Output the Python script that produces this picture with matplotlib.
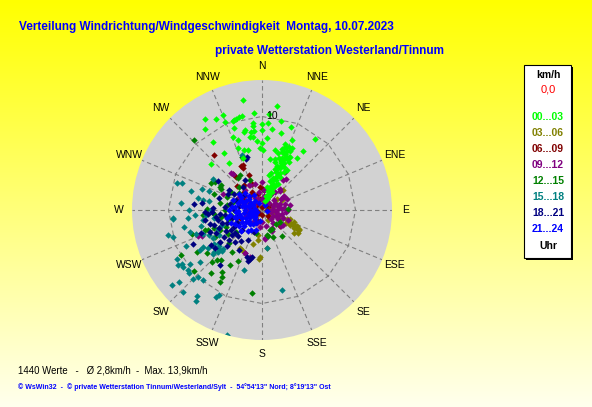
import numpy as np
import matplotlib
matplotlib.use('Agg')
import matplotlib.pyplot as plt
from matplotlib.patches import Rectangle

plt.rcParams['lines.scale_dashes'] = False
FONT = 'Liberation Sans'

W, H = 592, 407
RMAX = 13.9          # outer circle = maximum speed (km/h)
RING = 10            # labelled ring

sectors = ['N', 'NNE', 'NE', 'ENE', 'E', 'ESE', 'SE', 'SSE',
           'S', 'SSW', 'SW', 'WSW', 'W', 'WNW', 'NW', 'NNW']
hour_labels = ['00...03', '03...06', '06...09', '09...12',
               '12...15', '15...18', '18...21', '21...24']
hour_colors = ['#00FF00', '#808000', '#800000', '#800080',
               '#008000', '#008080', '#000080', '#0000FF']

# (direction in degrees, speed in km/h)
obs_00_03 = [(350, 11.9), (8, 11.2), (338, 11.0), (328, 11.5), (333, 10.9), (343, 10.1), (346, 10.3),
             (348, 10.3), (355, 10.4), (4, 10.3), (337, 10.2), (0, 9.2), (4, 9.3), (12, 9.7), (325, 10.6),
             (341, 9.3), (348, 8.7), (352, 8.4), (354, 8.5), (354, 9.0), (0, 8.6), (7, 8.7), (19, 9.4),
             (353, 7.9), (324, 9.0), (338, 8.4), (341, 7.9), (351, 7.9), (4, 7.7), (14, 8.5), (23, 8.1),
             (37, 9.5), (0, 7.2), (339, 7.1), (343, 6.7), (347, 6.6), (358, 6.6), (1, 6.4), (12, 6.6),
             (19, 6.6), (326, 7.3), (325, 6.2), (312, 7.3), (340, 5.9), (9, 5.5), (14, 5.6), (34, 6.7),
             (35, 7.7), (28, 6.4), (22, 6.5), (342, 10.0), (344, 10.1), (347, 8.6), (354, 9.4), (23, 5.8),
             (26, 6.1), (356, 7.4),
             (20, 1.0), (25, 1.3), (15, 1.5), (28, 1.7), (22, 1.9), (18, 2.1), (30, 2.2), (24, 2.4),
             (13, 2.5), (20, 2.7), (27, 2.9), (22, 3.0), (16, 3.2), (31, 3.3), (25, 3.5), (19, 3.6),
             (23, 3.8), (28, 4.0), (14, 4.1), (21, 4.3), (26, 4.4), (17, 4.6), (30, 4.7), (23, 4.9),
             (19, 5.0), (27, 5.2), (15, 5.3), (22, 5.4), (25, 5.6), (18, 5.8), (29, 5.9), (21, 6.0),
             (24, 6.2), (16, 6.3), (27, 6.4), (20, 6.6), (23, 6.8), (18, 6.9), (25, 7.0), (21, 7.2),
             (26, 7.4), (19, 7.5), (32, 5.0), (12, 3.8), (29, 3.1), (22, 1.5), (24, 2.0), (19, 2.4),
             (26, 2.6), (21, 3.4), (24, 4.1), (20, 4.5), (24, 5.1), (21, 5.6), (23, 6.0), (22, 6.5),
             (20, 7.0), (23, 7.3)]
obs_03_06 = [(111, 1.5), (110, 2.05), (111, 2.45), (115, 3.3), (116, 3.7), (118, 4.5), (109, 2.8),
             (110, 3.6), (117, 4.5), (119, 4.3), (113, 3.0), (106, 1.8), (120, 3.9), (114, 4.1),
             (109, 2.3), (118, 3.4), (190, 2.7), (184, 5.2), (187, 3.2), (182, 5.0), (207, 4.8),
             (173, 4.1), (210, 4.7), (195, 3.8), (200, 2.5), (47, 3.1), (63, 2.4), (55, 2.0), (70, 1.5),
             (150, 1.2), (90, 1.0), (130, 0.8), (240, 1.5), (60, 0.7), (105, 1.3), (112, 2.2),
             (118, 2.9), (108, 3.2), (115, 3.8), (122, 4.6), (125, 4.2)]
obs_06_09 = [(319, 7.8), (334, 5.2), (321, 4.5), (339, 4.0), (314, 3.7), (5, 2.2), (337, 5.2), (4, 2.2),
             (132, 2.6), (320, 2.0), (300, 1.5), (350, 1.2), (280, 1.8), (60, 1.0), (200, 1.2),
             (250, 2.5), (30, 1.8), (340, 3.0), (100, 0.8), (230, 0.7), (335, 4.9), (321, 5.0),
             (300, 2.3), (315, 2.7), (330, 2.2), (345, 1.8), (10, 1.4), (20, 0.9), (280, 1.2),
             (260, 1.7), (240, 1.1), (290, 2.6), (325, 3.3), (355, 2.5), (0, 0.3), (90, 0.5),
             (180, 0.5), (270, 0.6), (45, 0.8), (135, 0.9), (225, 0.4), (315, 0.7)]
obs_09_12 = [(36, 3.9), (57, 2.8), (359, 3.0), (334, 2.95), (345, 2.9), (88, 2.1), (216, 1.55),
             (187, 1.8), (200, 1.5), (174, 3.15), (156, 2.5), (31, 4.8), (58, 2.7), (248, 7.4),
             (320, 5.1), (332, 3.0), (174, 3.0), (201, 4.95), (321, 5.0), (292, 4.5), (247, 7.0),
             (201, 4.97), (194, 5.16), (10, 1.5), (30, 2.0), (50, 1.7), (70, 1.2), (20, 2.5), (80, 1.8),
             (100, 1.5), (120, 1.3), (45, 1.0), (350, 2.0), (15, 0.8), (60, 2.3), (90, 2.8), (75, 2.6),
             (330, 1.5), (0, 1.2), (40, 3.0), (110, 2.4), (140, 1.8), (300, 1.0), (270, 1.5), (290, 2.0),
             (310, 2.4), (250, 1.8), (320, 2.8), (280, 2.5), (260, 1.0), (300, 2.8), (38, 4.2), (44, 2.75),
             (60, 1.6), (85, 1.2), (100, 2.2), (70, 2.0), (25, 1.3), (5, 2.2), (340, 1.2), (120, 2.0),
             (130, 2.6), (150, 2.2), (165, 1.8), (180, 1.3), (35, 2.4), (95, 0.9), (75, 1.8), (85, 2.4),
             (95, 2.6), (105, 1.9), (115, 1.6), (125, 2.8), (135, 1.4), (80, 3.0), (65, 2.9), (110, 3.0),
             (100, 1.0), (90, 1.6)]
obs_12_15 = [(241, 9.9), (237, 8.3), (224, 7.7), (219, 6.9), (210, 6.8), (213, 7.9), (219, 8.6),
             (211, 8.3), (210, 8.9), (187, 8.9), (228, 9.8), (316, 10.4), (88, 2.8), (157, 3.1),
             (301, 5.9), (299, 5.1), (265, 6.3), (251, 6.5), (323, 4.35), (339, 6.1), (298, 6.2),
             (301, 5.1), (297, 4.9), (289, 5.4), (271, 5.9), (328, 4.4), (338, 3.5), (307, 3.05),
             (278, 3.8), (261, 3.4), (256, 3.5), (250, 6.1), (251, 7.9), (123, 2.3), (153, 2.3),
             (143, 3.5), (169, 2.7), (195, 2.5), (136, 2.1), (158, 2.3), (168, 2.85), (222, 7.2),
             (232, 7.5), (205, 6.0), (245, 5.0), (215, 5.5), (260, 4.5), (245, 4.2), (270, 4.0),
             (280, 4.6), (290, 4.0), (235, 4.5), (250, 5.5), (225, 5.0), (300, 3.8), (315, 3.5),
             (255, 3.8), (240, 5.8), (265, 5.2), (285, 3.2), (230, 3.6)]
obs_15_18 = [(288, 9.5), (289, 9.0), (285, 7.9), (289, 6.8), (280, 6.4), (281, 7.0), (266, 7.2),
             (265, 9.5), (264, 8.0), (255, 10.4), (253, 9.9), (302, 6.2), (260, 6.4), (247, 5.1),
             (253, 8.0), (240, 10.5), (234, 10.4), (231, 10.2), (229, 10.3), (229, 11.8), (230, 12.5),
             (224, 12.2), (217, 11.5), (216, 12.0), (208, 10.5), (207, 10.2), (220, 9.8), (224, 9.9),
             (230, 8.7), (197, 6.7), (195.5, 13.9), (166, 8.8), (264, 9.6), (340, 6.3), (225, 5.9),
             (228, 6.2), (232, 6.5), (230, 6.0), (235, 6.3), (226, 6.5), (233, 5.8), (229, 6.8),
             (224, 6.1), (237, 10.7), (236, 10.3), (225, 10.4), (233, 9.6), (237, 7.9), (250, 7.5),
             (258, 8.5), (245, 9.0), (270, 7.8), (275, 8.7), (240, 6.0), (248, 6.8), (173, 4.1),
             (250, 4.6), (260, 5.2), (240, 5.3), (270, 5.5), (245, 6.3), (255, 6.8), (265, 6.0),
             (280, 5.8), (235, 7.0), (238, 7.5), (228, 7.0), (290, 6.0)]
obs_18_21 = [(344, 5.9), (303, 5.6), (302, 4.1), (275, 7.3), (268, 6.1), (268, 5.4), (260, 6.2),
             (244, 8.2), (235, 6.6), (231, 6.5), (217, 7.4), (198, 5.3), (194, 5.4), (229, 3.8),
             (222, 3.8), (253, 5.4), (195, 5.7), (192, 5.1), (224, 5.4), (343, 5.7), (330, 3.7),
             (250, 4.0), (240, 4.5), (260, 3.5), (235, 5.0), (255, 5.8), (245, 3.0), (265, 4.5),
             (230, 4.2), (270, 3.0), (258, 2.5), (280, 2.5), (225, 3.0), (248, 5.0), (262, 5.0),
             (238, 3.5), (290, 3.0), (310, 2.5), (320, 3.2), (215, 4.0), (205, 3.5), (200, 2.5),
             (275, 4.0), (285, 4.8), (252, 4.5), (243, 5.5), (257, 4.8), (266, 5.8), (237, 4.0),
             (228, 4.8), (272, 5.2), (281, 3.5), (247, 6.0), (233, 5.6), (262, 4.0), (255, 3.3),
             (240, 3.0), (295, 4.0), (300, 3.5), (220, 4.5), (210, 5.0), (277, 6.5), (249, 7.0)]
obs_21_24 = [(250, 1.5), (260, 2.0), (240, 2.5), (270, 1.8), (280, 2.2), (230, 1.8), (255, 3.0),
             (265, 2.8), (245, 1.2), (290, 1.5), (300, 2.0), (275, 3.2), (235, 3.0), (220, 2.0),
             (285, 2.7), (310, 1.8), (250, 0.8), (205, 1.5), (215, 2.7), (295, 2.5), (262, 3.5),
             (248, 2.3), (272, 1.0), (320, 1.2), (225, 1.0), (190, 1.2), (340, 0.8), (30, 0.6),
             (100, 0.5), (258, 1.4), (330, 1.8), (315, 2.5), (305, 3.0), (235, 0.9), (255, 2.4),
             (268, 2.6), (242, 3.3), (228, 2.6), (282, 1.4), (296, 1.1), (252, 2.9), (238, 1.5),
             (263, 1.2), (277, 2.9), (247, 3.6), (212, 1.8), (198, 2.2), (225, 3.2), (288, 3.3),
             (302, 2.6), (318, 2.0), (257, 3.8), (270, 3.5), (233, 2.2), (243, 1.9), (261, 2.5),
             (283, 1.9), (292, 2.2), (208, 2.4), (218, 1.2), (253, 0.6), (275, 0.7), (300, 1.4)]
groups = [obs_00_03, obs_03_06, obs_06_09, obs_09_12, obs_12_15, obs_15_18, obs_18_21, obs_21_24]
draw_order = [1, 2, 3, 4, 5, 6, 7, 0]   # night streak (00...03) lies on top in the picture

n_values = 1440
mean_speed = '2,8'
max_speed = '13,9'


def fx(x):
    return x / W


def fy(y):
    return 1 - y / H


fig = plt.figure(figsize=(W / 100, H / 100), dpi=100)

# yellow gradient background
bg = fig.add_axes([0, 0, 1, 1], zorder=-10)
t = np.linspace(0, 1, 256)
img = np.zeros((256, 1, 3))
img[:, 0, 0] = 1.0
img[:, 0, 1] = 1.0
img[:, 0, 2] = t * 0.93
bg.imshow(img, aspect='auto', extent=[0, 1, 0, 1], origin='upper')
bg.axis('off')

# polar plot: centre (262,210) px, radius 130 px
cx, cy, rad = 262, 210, 130
ax = fig.add_axes([fx(cx - rad), fy(cy + rad), 2 * rad / W, 2 * rad / H], projection='polar')
ax.set_theta_zero_location('N')
ax.set_theta_direction(-1)
ax.set_ylim(0, RMAX)
ax.grid(False)
ax.set_xticks([])
ax.set_yticks([])
ax.spines['polar'].set_visible(False)
ax.set_facecolor('#D2D2D2')

dash = (0, (3.2, 2.2))
angles = np.deg2rad(np.arange(16) * 22.5)
for a in angles:
    ax.plot([a, a], [0, RMAX], color='#808080', lw=0.8, ls=dash, zorder=1)
ring_t = np.deg2rad(np.arange(17) * 22.5)
ax.plot(ring_t, [RING] * 17, color='#808080', lw=0.8, ls=dash, zorder=1)
ax.annotate(str(RING), xy=(0, RING), xytext=(3, 0), textcoords='offset points',
            ha='left', va='center', fontsize=7.5, family=FONT, color='black', zorder=5)

for k, gi in enumerate(draw_order):
    pts = groups[gi]
    d = np.deg2rad([p[0] for p in pts])
    s = [p[1] for p in pts]
    ax.plot(d, s, ls='none', marker='D', ms=3.3, mew=0, color=hour_colors[gi], zorder=3 + k * 0.01)

for a, lab in zip(angles, sectors):
    ax.text(a, 15.35, lab, ha='center', va='center', fontsize=7.5, family=FONT,
            color='black', clip_on=False)

# titles
fig.text(fx(19), fy(30), 'Verteilung Windrichtung/Windgeschwindigkeit  Montag, 10.07.2023',
         ha='left', va='baseline', fontsize=8.45, fontweight='bold', family=FONT, color='#0000FF')
fig.text(fx(215), fy(54), 'private Wetterstation Westerland/Tinnum',
         ha='left', va='baseline', fontsize=8.45, fontweight='bold', family=FONT, color='#0000FF')

# legend box
fig.add_artist(Rectangle((fx(526), fy(260)), 47 / W, 193 / H, transform=fig.transFigure,
                         facecolor='black', edgecolor='none', zorder=2))
fig.add_artist(Rectangle((fx(524), fy(258)), 47 / W, 193 / H, transform=fig.transFigure,
                         facecolor='white', edgecolor='black', lw=0.8, zorder=3))
lx = fx(548)
fig.text(lx, fy(75.5), 'km/h', ha='center', va='center', fontsize=7.5, fontweight='bold',
         family=FONT, color='black', zorder=4)
fig.text(lx, fy(90), '0,0', ha='center', va='center', fontsize=8,
         family=FONT, color='#FF0000', zorder=4)
for i, (lab, col) in enumerate(zip(hour_labels, hour_colors)):
    fig.text(lx, fy(117.5 + 16 * i), lab, ha='center', va='center', fontsize=7.5,
             fontweight='bold', family=FONT, color=col, zorder=4)
fig.text(lx, fy(246), 'Uhr', ha='center', va='center', fontsize=7.5, fontweight='bold',
         family=FONT, color='black', zorder=4)

# footer
fig.text(fx(18), fy(373.5),
         f'{n_values} Werte   -   \u00d8 {mean_speed}km/h  -  Max. {max_speed}km/h',
         ha='left', va='baseline', fontsize=6.9, family=FONT, color='black')
fig.text(fx(18), fy(389),
         '\u00a9 WsWin32  -  \u00a9 private Wetterstation Tinnum/Westerland/Sylt  -  '
         '54\u00b054\'13" Nord; 8\u00b019\'13" Ost',
         ha='left', va='baseline', fontsize=5.0, fontweight='bold', family=FONT, color='#0000FF')

fig.savefig('out.png', dpi=100)
